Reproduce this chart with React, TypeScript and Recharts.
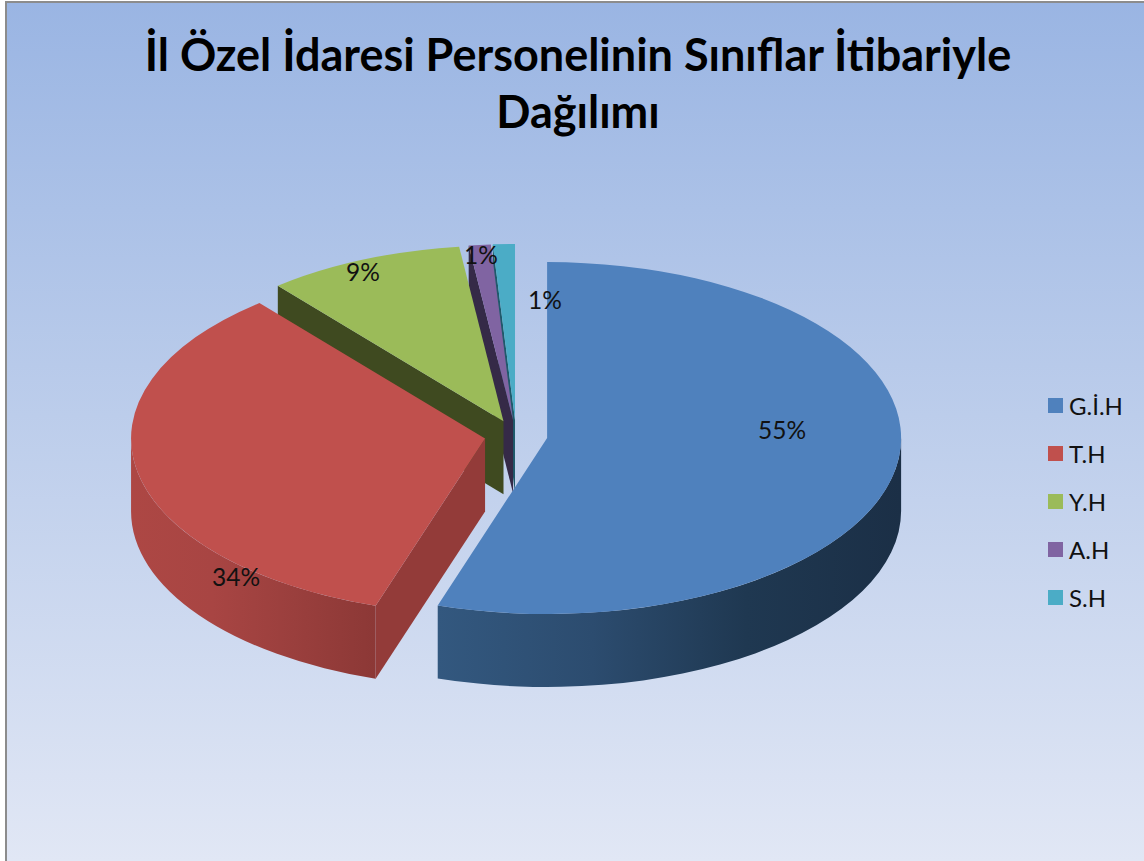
import { Legend, Pie, PieChart } from 'recharts'

const categories = ['G.İ.H', 'T.H', 'Y.H', 'A.H', 'S.H']
const shares = [55, 34, 9, 1, 1]
const titleLines = ['İl Özel İdaresi Personelinin Sınıflar İtibariyle', 'Dağılımı']

const topColors = ['#4f81bd', '#c0504d', '#9bbb59', '#8064a2', '#4bacc6']
const cutColors = ['#2f5378', '#933b39', '#3f4a20', '#352a47', '#1f5a6b']
const wallStops = [
  ['#33587f', '#2c4c6f', '#1f3851', '#1b2f46'],
  ['#ad4744', '#a84543', '#9a3f3d', '#8c3836'],
  ['#3f4a20', '#3f4a20', '#3f4a20', '#3f4a20'],
  ['#352a47', '#352a47', '#352a47', '#352a47'],
  ['#1f5a6b', '#1f5a6b', '#1f5a6b', '#1f5a6b'],
]
// label centres, measured from the pie centre
const labelShift = [
  { dx: 266, dy: -6 },
  { dx: -280, dy: 141 },
  { dx: -153, dy: -164 },
  { dx: -35, dy: -181 },
  { dx: 29, dy: -136 },
]

const SQUASH = 0.497
const DEPTH = 73
const EXPLODE = 31.5
const RAD = Math.PI / 180

// drawn back to front, so the slices run counter-clockwise from teal round to blue
const pieData = categories.map((name, i) => ({ name, value: shares[i] })).reverse()

const Slice3D = (props: any) => {
  const { cx, cy, outerRadius: r, startAngle, endAngle, name } = props
  const i = categories.indexOf(name)
  const a = Math.min(startAngle, endAngle)
  const b = Math.max(startAngle, endAngle)
  const mid = ((a + b) / 2) * RAD
  const ax = cx + EXPLODE * Math.cos(mid)
  const ay = cy - EXPLODE * Math.sin(mid) * SQUASH
  const pt = (deg: number, drop = 0) =>
    `${ax + r * Math.cos(deg * RAD)} ${ay - r * SQUASH * Math.sin(deg * RAD) + drop}`
  const ry = r * SQUASH
  const wallFrom = Math.max(a, 180)
  const wallTo = Math.min(b, 360)
  const gradId = `wall-${i}`
  return (
    <g>
      <defs>
        <linearGradient id={gradId} x1="0" y1="0" x2="1" y2="0">
          {wallStops[i].map((c, k) => (
            <stop key={k} offset={k / 3} stopColor={c} />
          ))}
        </linearGradient>
      </defs>
      {wallTo > wallFrom && (
        <path
          fill={`url(#${gradId})`}
          d={`M${pt(wallFrom)} A${r} ${ry} 0 0 0 ${pt(wallTo)} L${pt(wallTo, DEPTH)} A${r} ${ry} 0 0 1 ${pt(wallFrom, DEPTH)} Z`}
        />
      )}
      {Math.cos(b * RAD) < 0 && (
        <path
          fill={cutColors[i]}
          d={`M${ax} ${ay} L${pt(b)} L${pt(b, DEPTH)} L${ax} ${ay + DEPTH} Z`}
        />
      )}
      <path
        fill={topColors[i]}
        d={`M${ax} ${ay} L${pt(a)} A${r} ${ry} 0 ${b - a > 180 ? 1 : 0} 0 ${pt(b)} Z`}
      />
    </g>
  )
}

const renderLabel = (props: any) => {
  const { cx, cy, name, value } = props
  const s = labelShift[categories.indexOf(name)]
  return (
    <text
      x={cx + s.dx}
      y={cy + s.dy}
      textAnchor="middle"
      dominantBaseline="central"
      fontFamily="Lato"
      fontSize={24.5}
      fill="#111"
    >
      {`${value}%`}
    </text>
  )
}

const renderLegend = () => (
  <div>
    {categories.map((name, i) => (
      <div
        key={name}
        style={{ display: 'flex', alignItems: 'center', height: 48.2, fontFamily: 'Lato', fontSize: 24, color: '#111' }}
      >
        <span style={{ width: 15, height: 15, background: topColors[i], marginRight: 6 }} />
        {name}
      </div>
    ))}
  </div>
)

export default function App() {
  return (
    <div style={{ position: 'absolute', left: 0, top: 0, width: 1144, height: 861, background: '#fff', overflow: 'hidden' }}>
      <div
        style={{
          position: 'absolute',
          left: 5,
          top: 1,
          right: 0,
          bottom: 0,
          borderLeft: '2px solid #8c8c8c',
          borderTop: '2px solid #8c8c8c',
          background: 'linear-gradient(180deg, #9ab5e3 0%, #bccdeb 48%, #e1e7f5 100%)',
        }}
      />
      <PieChart
        width={1144}
        height={861}
        margin={{ top: 0, right: 0, bottom: 0, left: 0 }}
        style={{ position: 'absolute', left: 0, top: 0 }}
      >
        {titleLines.map((line, i) => (
          <text
            key={line}
            x={578}
            y={71 + i * 57}
            textAnchor="middle"
            fontFamily="Lato"
            fontWeight={700}
            fontSize={45}
            fill="#000"
          >
            {line}
          </text>
        ))}
        <Pie
          data={pieData}
          dataKey="value"
          nameKey="name"
          cx={516}
          cy={435.6}
          outerRadius={354}
          startAngle={90}
          endAngle={450}
          stroke="none"
          shape={Slice3D}
          label={renderLabel}
          labelLine={false}
          isAnimationActive={false}
        />
        <Legend
          content={renderLegend}
          wrapperStyle={{ position: 'absolute', left: 1048, top: 381, width: 96, height: 241 }}
        />
      </PieChart>
    </div>
  )
}
